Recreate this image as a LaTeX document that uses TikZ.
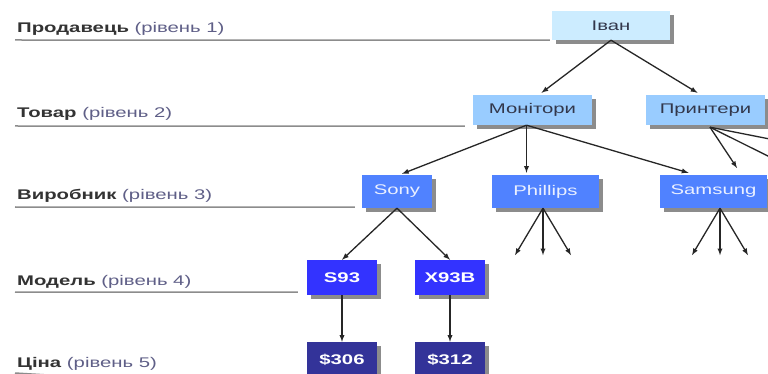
\documentclass[tikz,border=0pt]{standalone}
\usepackage{fontspec}
\setmainfont{Liberation Sans}[FakeStretch=1.45]
\usetikzlibrary{shadows,calc}
\definecolor{sellerblue}{RGB}{204,236,255}
\definecolor{goodsblue}{RGB}{153,204,255}
\definecolor{makerblue}{RGB}{80,130,255}
\definecolor{modelblue}{RGB}{51,51,255}
\definecolor{priceblue}{RGB}{51,51,153}
\definecolor{lvlgray}{RGB}{95,95,135}
\definecolor{txtdark}{RGB}{50,55,75}
\tikzset{
    box/.style={
        inner sep=0pt,
        font=\fontsize{14}{16}\selectfont,
        drop shadow={shadow xshift=4pt,shadow yshift=-4pt,fill=black!45,opacity=1}
    },
    seller/.style={box,fill=sellerblue,text=txtdark,minimum width=118pt,minimum height=29pt},
    goods/.style={box,fill=goodsblue,text=txtdark,minimum width=119pt,minimum height=30pt},
    maker/.style={box,fill=makerblue,text=white!88!makerblue,minimum height=33pt},
    model/.style={box,fill=modelblue,text=white,font=\fontsize{14}{16}\selectfont\bfseries,minimum width=70pt,minimum height=35pt},
    price/.style={model,fill=priceblue},
    level/.style={anchor=base west,inner sep=0pt,font=\fontsize{14}{16}\selectfont,text=black!80},
    levelline/.style={draw=black!45,line width=1.5pt},
    link/.style={->,draw=black!85,line width=1.3pt}
}

\begin{document}
\begin{tikzpicture}[x=1pt,y=-1pt,>=latex]
\clip (0,0) rectangle (768,374);
\fill[white] (0,0) rectangle (768,374);
% level captions
\node[level] (lvl1) at (17,33) {\textbf{Продавець} \textcolor{lvlgray}{(рівень 1)}};
\node[level] (lvl2) at (17,118) {\textbf{Товар} \textcolor{lvlgray}{(рівень 2)}};
\node[level] (lvl3) at (17,200) {\textbf{Виробник} \textcolor{lvlgray}{(рівень 3)}};
\node[level] (lvl4) at (17,285) {\textbf{Модель} \textcolor{lvlgray}{(рівень 4)}};
\node[level] (lvl5) at (17,367) {\textbf{Ціна} \textcolor{lvlgray}{(рівень 5)}};
% tree
\node[seller] (ivan) at (611,25.5) {Іван};
\node[goods] (mon) at (532.5,110) {Монітори};
\node[goods] (prn) at (705.5,110) {Принтери};
\node[maker,minimum width=70pt] (sony) at (397,191.5) {Sony};
\node[maker,minimum width=107pt] (phil) at (545.5,191.5) {Phillips};
\node[maker,minimum width=107pt] (sam) at (713.5,191.5) {Samsung};
\node[model] (s93) at (342,277.5) {S93};
\node[model] (x93b) at (450,277.5) {X93B};
\node[price] (p306) at (342,359.5) {\$306};
\node[price] (p312) at (450,359.5) {\$312};
% underlines of the levels
\draw[levelline] (15,40) -- ([xshift=-2pt]ivan.south west);
\draw[levelline] (15,126) -- ([xshift=-8pt,yshift=-1pt]mon.south west);
\draw[levelline] (15,207) -- ([xshift=-7pt,yshift=1pt]sony.south west);
\draw[levelline] (15,292) -- ([xshift=-9pt,yshift=3pt]s93.south west);
\draw[levelline] (15,373) -- ([xshift=-9pt,yshift=-13pt]p306.south west);
% links
\draw[link] (ivan.south) -- ([xshift=9pt,yshift=2pt]mon.north);
\draw[link] (ivan.south) -- ([xshift=-8pt,yshift=2pt]prn.north);
\coordinate (monj) at ([xshift=-6pt]mon.south);
\draw[link] (monj) -- ([xshift=5pt,yshift=1pt]sony.north);
\draw[link] (monj) -- ([xshift=-19pt,yshift=2pt]phil.north);
\draw[link] (monj) -- ([xshift=-25pt,yshift=2pt]sam.north);
\draw[link] (sony.south) -- (s93.north);
\draw[link] (sony.south) -- (x93b.north);
\draw[link] (s93.south) -- (p306.north);
\draw[link] (x93b.south) -- (p312.north);
\foreach \src/\dx in {phil/-2.5,sam/6.5}{
    \coordinate (\src j) at ([xshift=\dx pt]\src.south);
    \foreach \t [count=\i] in {-28,0,28}{
        \coordinate (\src end\i) at ($(\src j)+(\t,47)$);
        \draw[link] (\src j) -- (\src end\i);
    }
}
\coordinate (prnj) at ([xshift=4.5pt,yshift=-2pt]prn.south);
\coordinate (prnend1) at (737,168);
\coordinate (prnend2) at (800,172);
\coordinate (prnend3) at (800,145);
\draw[link] (prnj) -- (prnend1);
\draw[link] (prnj) -- (prnend2);
\draw[link] (prnj) -- (prnend3);
\end{tikzpicture}
\end{document}
